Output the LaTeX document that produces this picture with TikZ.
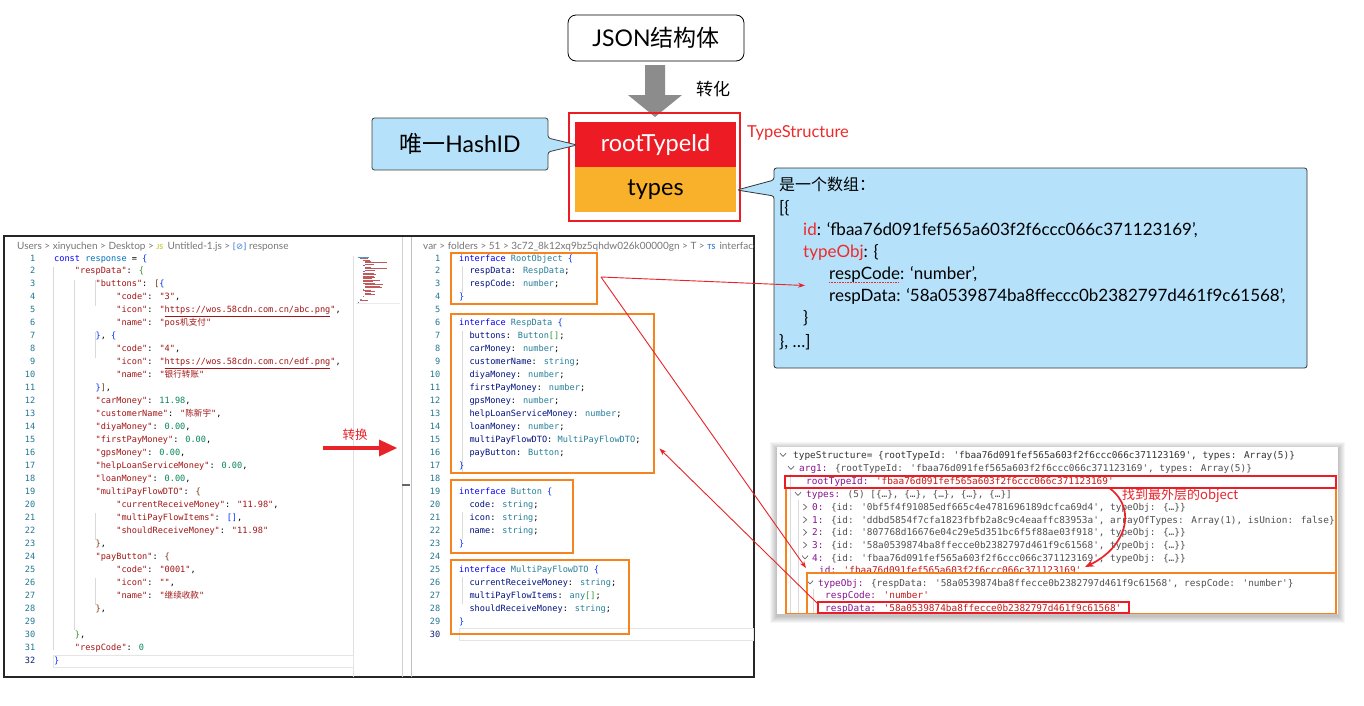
\documentclass[tikz,border=0pt]{standalone}
\usepackage{fontspec}
\usetikzlibrary{arrows.meta}
\setmainfont{Lato}
\newfontfamily\cjk{Noto Sans CJK SC}
\newfontfamily\monof{DejaVu Sans Mono}[Ligatures=TeXOff]
\newfontfamily\dejavu{DejaVu Sans}
\definecolor{boxred}{HTML}{ED1C24}
\definecolor{boxorange}{HTML}{F9B12C}
\definecolor{callblue}{HTML}{B5E2FA}
\definecolor{labred}{HTML}{EE2A2A}
\definecolor{frameorange}{HTML}{F5841F}
\definecolor{arrred}{HTML}{E8232A}
\definecolor{kw}{HTML}{0000FF}
\definecolor{jstr}{HTML}{A31515}
\definecolor{jnum}{HTML}{098658}
\definecolor{jid}{HTML}{0070C1}
\definecolor{tprop}{HTML}{001080}
\definecolor{ttype}{HTML}{267F99}
\definecolor{bka}{HTML}{0431FA}
\definecolor{bkb}{HTML}{319331}
\definecolor{bkc}{HTML}{7B3814}
\definecolor{lnumc}{HTML}{237893}
\definecolor{lnumcur}{HTML}{0B216F}
\definecolor{crumbc}{HTML}{767676}
\definecolor{conk}{HTML}{881391}
\definecolor{cons}{HTML}{C41A16}
\definecolor{cgray}{HTML}{505050}
\definecolor{guide}{HTML}{D9D9D9}
\newcommand\codefont{\monof\fontsize{8.6}{10}\selectfont}
\newcommand\confont{\monof\fontsize{9.4}{11}\selectfont}
\newcommand\ckw[1]{\textcolor{kw}{#1}}
\newcommand\cst[1]{\textcolor{jstr}{#1}}
\newcommand\cnu[1]{\textcolor{jnum}{#1}}
\newcommand\cpr[1]{\textcolor{tprop}{#1}}
\newcommand\cty[1]{\textcolor{ttype}{#1}}
\newcommand\bka[1]{\textcolor{bka}{#1}}
\newcommand\bkb[1]{\textcolor{bkb}{#1}}
\newcommand\bkc[1]{\textcolor{bkc}{#1}}
\newcommand\conkey[1]{\textcolor{conk}{#1}}
\newcommand\constr[1]{\textcolor{cons}{#1}}
\newcommand\zh[1]{{\cjk #1}}
\newcommand\jl[3]{\node[code] (jl#1) at ({54+#2*5.18},{261+(#1-1)*12.97}) {#3};}
\newcommand\tsl[3]{\node[code] (ts#1) at ({459+#2*5.18},{261+(#1-1)*12.97}) {#3};}
\newcommand\conline[4]{\node[con] (cl#1) at (#2,{#3+3.5}) {#4};}
\newcommand\vchev[2]{\draw[chev] ({#1-3},{#2-1.8}) -- ({#1},{#2+1.4}) -- ({#1+3},{#2-1.8});}
\newcommand\rchev[2]{\draw[chev] ({#1-1.6},{#2-3}) -- ({#1+1.6},{#2}) -- ({#1-1.6},{#2+3});}
\tikzset{
  code/.style={anchor=base west, inner sep=0pt, font=\codefont},
  lnum/.style={anchor=base east, inner sep=0pt, font=\codefont, text=lnumc},
  con/.style={anchor=base west, inner sep=0pt, font=\confont, text=cgray},
  crumb/.style={anchor=base west, inner sep=0pt, font=\fontsize{10}{12}\selectfont, text=crumbc},
  note/.style={anchor=base west, inner sep=0pt, font=\fontsize{17}{20}\selectfont},
  orbox/.style={draw=frameorange, line width=1.8pt},
  rdbox/.style={draw=boxred, line width=1.8pt},
  thinarrow/.style={draw=arrred, line width=0.9pt, -{Stealth[length=7pt,width=5pt]}},
  guideline/.style={draw=guide, line width=0.6pt},
  chev/.style={draw=black!60, line width=0.7pt},
}
\begin{document}
\begin{tikzpicture}[x=1pt,y=-1pt]
\useasboundingbox (0,0) rectangle (1364,705);
\fill[white] (0,0) rectangle (1364,705);

% ---------------- top part ----------------
\node[draw=black, rounded corners=8pt, line width=0.8pt, minimum width=176pt, minimum height=46pt,
  font=\fontsize{23}{26}\selectfont] (json) at (656,38) {JSON\zh{结构体}};
\fill[black!45] (645,65) -- (665,65) -- (665,95) -- (682,95) -- (655,117) -- (628,95) -- (645,95) -- cycle;
\node[font=\cjk\fontsize{17}{20}\selectfont, anchor=center] (zh1) at (713,89) {转化};

\node[draw=boxred, line width=1.8pt, minimum width=171pt, minimum height=108pt] (ts) at (654.5,167) {};
\node[fill=boxred, minimum width=161pt, minimum height=45pt, inner sep=0pt, text=white,
  font=\fontsize{23.5}{26}\selectfont] (root) at (655.5,144.5) {rootTypeId};
\node[fill=boxorange, minimum width=161pt, minimum height=45pt, inner sep=0pt,
  font=\fontsize{23.5}{26}\selectfont] (types) at (655.5,189.5) {types};
\node[anchor=west, text=labred, inner sep=0pt, font=\fontsize{16.5}{19}\selectfont] (tslabel) at (747,133) {TypeStructure};

% HashID callout
\draw[fill=callblue, draw=black!75, line width=0.8pt, rounded corners=2.5pt]
  (372,118) -- (548,118) -- (548,138) -- (577,145) -- (548,152) -- (548,170) -- (372,170) -- cycle;
\node[font=\fontsize{23}{26}\selectfont] (hash) at (460,144) {\zh{唯一}HashID};

% array note callout
\draw[fill=callblue, draw=black!80, line width=0.8pt, rounded corners=2.5pt]
  (774,168) -- (1307,168) -- (1307,368) -- (774,368) -- (774,196) -- (737,190) -- (774,180) -- cycle;
\node[note, font=\cjk\fontsize{16}{19}\selectfont] (n1) at (779,190) {是一个数组：};
\node[note] (n2) at (779,213) {[\{};
\node[note] (n3) at (803,235.5) {\textcolor{labred}{id}: ‘fbaa76d091fef565a603f2f6ccc066c371123169’,};
\node[note] (n4) at (803,257) {\textcolor{labred}{typeObj}: \{};
\node[note] (n5) at (829,279) {respCode: ‘number’,};
\draw[labred, line width=0.6pt, densely dotted] (829,282.5) -- (899,282.5);
\node[note] (n6) at (829,301) {respData: ‘58a0539874ba8ffeccc0b2382797d461f9c61568’,};
\node[note] (n7) at (803,323.5) {\}};
\node[note] (n8) at (779,347.5) {\}, …]};

% ---------------- code screenshot frame ----------------
\draw[black!85, line width=1.3pt] (4,236) rectangle (754,677);
\draw[black!12, line width=0.6pt] (353,256) -- (353,677);
\draw[black!18, line width=0.6pt] (402,237) -- (402,677);
\draw[black!25, line width=0.6pt] (411.5,237) -- (411.5,677);
\draw[black!60, line width=1.2pt] (402,485) -- (410,485);

% breadcrumbs
\node[crumb] (bcl) at (17,249) {Users > xinyuchen > Desktop > \textcolor[HTML]{CBCB41}{\bfseries\fontsize{7}{8}\selectfont JS}\, Untitled-1.js > \textcolor[HTML]{3C7DD6}{\dejavu\fontsize{8.5}{10}\selectfont [⊘]} response};
\begin{scope}
\clip (412,237) rectangle (753,256);
\node[crumb] (bcm) at (423,249) {var > folders > 51 > 3c72\_8k12xq9bz5qhdw026k00000gn > T > \textcolor[HTML]{3C7DD6}{\bfseries\fontsize{7}{8}\selectfont TS}\, interface.ts};
\end{scope}

% minimap
\foreach \r/\a/\b/\c in {0/0/18/jid,1/4/12/jstr,2/8/12/jstr,3/12/10/jstr,4/12/36/jstr,5/12/14/jstr,6/8/4/bka,7/12/10/jstr,8/12/36/jstr,9/12/16/jstr,10/8/3/bka,11/8/18/jstr,12/8/22/jstr,13/8/18/jstr,14/8/21/jstr,15/8/16/jstr,16/8/29/jstr,17/8/17/jstr,18/8/20/jstr,19/12/30/jstr,20/12/24/jstr,21/12/28/jstr,22/8/2/bkc,23/8/14/jstr,24/12/16/jstr,25/12/10/jstr,26/12/16/jstr,27/8/2/bkc,29/4/2/bkb,30/4/13/jstr,31/0/1/bka}
  \draw[\c!70, line width=0.7pt] ({358+\a*0.6},{257+\r*1.45}) -- ++({\b*0.6},0);
\draw[black!8, line width=0.6pt] (356,303) -- (400,303);

% left code: indent guides and current line
\draw[guideline] (53.5,267) -- (53.5,650);
\draw[guideline] (74.5,280) -- (74.5,630);
\foreach \ya/\yb in {280/306, 332/358, 513/540, 578/605}
  \draw[guideline] (95.2,\ya) -- (95.2,\yb);
\draw[black!10, line width=0.6pt] (53,655) rectangle (353,667);

% left line numbers
\foreach \n in {1,...,31}
  \node[lnum] (jn\n) at (35.5,{261+(\n-1)*12.97}) {\n};
\node[lnum, text=lnumcur] (jn32) at (35.5,{261+31*12.97}) {32};

\jl{1}{0}{\ckw{const} \textcolor{jid}{response} = \bka{\{}}
\jl{2}{4}{\cst{"respData"}: \bkb{\{}}
\jl{3}{8}{\cst{"buttons"}: \bkc{[}\bka{\{}}
\jl{4}{12}{\cst{"code"}: \cst{"3"},}
\jl{5}{12}{\cst{"icon"}: \cst{"\underline{https://wos.58cdn.com.cn/abc.png}"},}
\jl{6}{12}{\cst{"name"}: \cst{"pos\zh{机支付}"}}
\jl{7}{8}{\bka{\}}, \bka{\{}}
\jl{8}{12}{\cst{"code"}: \cst{"4"},}
\jl{9}{12}{\cst{"icon"}: \cst{"\underline{https://wos.58cdn.com.cn/edf.png}"},}
\jl{10}{12}{\cst{"name"}: \cst{"\zh{银行转账}"}}
\jl{11}{8}{\bka{\}}\bkc{]},}
\jl{12}{8}{\cst{"carMoney"}: \cnu{11.98},}
\jl{13}{8}{\cst{"customerName"}: \cst{"\zh{陈新宇}"},}
\jl{14}{8}{\cst{"diyaMoney"}: \cnu{0.00},}
\jl{15}{8}{\cst{"firstPayMoney"}: \cnu{0.00},}
\jl{16}{8}{\cst{"gpsMoney"}: \cnu{0.00},}
\jl{17}{8}{\cst{"helpLoanServiceMoney"}: \cnu{0.00},}
\jl{18}{8}{\cst{"loanMoney"}: \cnu{0.00},}
\jl{19}{8}{\cst{"multiPayFlowDTO"}: \bkc{\{}}
\jl{20}{12}{\cst{"currentReceiveMoney"}: \cst{"11.98"},}
\jl{21}{12}{\cst{"multiPayFlowItems"}: \bka{[]},}
\jl{22}{12}{\cst{"shouldReceiveMoney"}: \cst{"11.98"}}
\jl{23}{8}{\bkc{\}},}
\jl{24}{8}{\cst{"payButton"}: \bkc{\{}}
\jl{25}{12}{\cst{"code"}: \cst{"0001"},}
\jl{26}{12}{\cst{"icon"}: \cst{""},}
\jl{27}{12}{\cst{"name"}: \cst{"\zh{继续收款}"}}
\jl{28}{8}{\bkc{\}},}
\jl{30}{4}{\bkb{\}},}
\jl{31}{4}{\cst{"respCode"}: \cnu{0}}
\jl{32}{0}{\bka{\}}}

% 转换 arrow
\fill[arrred] (323,446.2) rectangle (381,449.8);
\fill[arrred] (379,439.5) -- (397,448) -- (379,456.5) -- cycle;
\node[font=\cjk\fontsize{12.5}{15}\selectfont, text=arrred] (zh2) at (355,435) {转换};

% middle code
\foreach \ya/\yb in {266/293, 331/472, 512/539, 577/604}
  \draw[guideline] (462,\ya) -- (462,\yb);
\draw[black!10, line width=0.6pt] (459,628) rectangle (753,640);
\foreach \n in {1,...,29}
  \node[lnum] (tn\n) at (440.5,{261+(\n-1)*12.97}) {\n};
\node[lnum, text=lnumcur] (tn30) at (440.5,{261+29*12.97}) {30};

\tsl{1}{0}{\ckw{interface} \cty{RootObject} \bka{\{}}
\tsl{2}{2}{\cpr{respData}: \cty{RespData};}
\tsl{3}{2}{\cpr{respCode}: \cty{number};}
\tsl{4}{0}{\bka{\}}}
\tsl{6}{0}{\ckw{interface} \cty{RespData} \bka{\{}}
\tsl{7}{2}{\cpr{buttons}: \cty{Button}\bkb{[]};}
\tsl{8}{2}{\cpr{carMoney}: \cty{number};}
\tsl{9}{2}{\cpr{customerName}: \cty{string};}
\tsl{10}{2}{\cpr{diyaMoney}: \cty{number};}
\tsl{11}{2}{\cpr{firstPayMoney}: \cty{number};}
\tsl{12}{2}{\cpr{gpsMoney}: \cty{number};}
\tsl{13}{2}{\cpr{helpLoanServiceMoney}: \cty{number};}
\tsl{14}{2}{\cpr{loanMoney}: \cty{number};}
\tsl{15}{2}{\cpr{multiPayFlowDTO}: \cty{MultiPayFlowDTO};}
\tsl{16}{2}{\cpr{payButton}: \cty{Button};}
\tsl{17}{0}{\bka{\}}}
\tsl{19}{0}{\ckw{interface} \cty{Button} \bka{\{}}
\tsl{20}{2}{\cpr{code}: \cty{string};}
\tsl{21}{2}{\cpr{icon}: \cty{string};}
\tsl{22}{2}{\cpr{name}: \cty{string};}
\tsl{23}{0}{\bka{\}}}
\tsl{25}{0}{\ckw{interface} \cty{MultiPayFlowDTO} \bka{\{}}
\tsl{26}{2}{\cpr{currentReceiveMoney}: \cty{string};}
\tsl{27}{2}{\cpr{multiPayFlowItems}: \cty{any}\bkb{[]};}
\tsl{28}{2}{\cpr{shouldReceiveMoney}: \cty{string};}
\tsl{29}{0}{\bka{\}}}

% orange interface boxes
\node[orbox, minimum width=146pt, minimum height=51pt, inner sep=0pt] (ib1) at (524,278.5) {};
\node[orbox, minimum width=203pt, minimum height=159pt, inner sep=0pt] (ib2) at (552.5,393.5) {};
\node[orbox, minimum width=122pt, minimum height=73pt, inner sep=0pt] (ib3) at (512,516.5) {};
\node[orbox, minimum width=178pt, minimum height=74pt, inner sep=0pt] (ib4) at (540,597) {};

% ---------------- console screenshot ----------------
\foreach \i in {1,...,7}
  \fill[black, opacity=0.035] ({777-\i},{447-\i+2}) rectangle ({1338+\i},{614+\i+2});
\fill[white] (777,447) rectangle (1338,614);
\draw[guideline] (790,474) -- (790,614);
\draw[guideline] (798,500) -- (798,614);
\draw[guideline] (813,589) -- (813,614);

\vchev{783}{455}
\conline{1}{793}{455}{\textcolor{black!80}{typeStructure= \{rootTypeId: 'fbaa76d091fef565a603f2f6ccc066c371123169', types: Array(5)\}}}
\vchev{791}{468}
\conline{2}{799}{468}{\conkey{arg1:} \{rootTypeId: 'fbaa76d091fef565a603f2f6ccc066c371123169', types: Array(5)\}}
\conline{3}{806}{481}{\conkey{rootTypeId:} \constr{'fbaa76d091fef565a603f2f6ccc066c371123169'}}
\vchev{798}{494}
\conline{4}{806}{494}{\conkey{types:} (5) [\{…\}, \{…\}, \{…\}, \{…\}, \{…\}]}
\rchev{805}{507}
\conline{5}{812}{507}{\conkey{0:} \{id: '0bf5f4f91085edf665c4e4781696189dcfca69d4', typeObj: \{…\}\}}
\rchev{805}{519.7}
\conline{6}{812}{519.7}{\conkey{1:} \{id: 'ddbd5854f7cfa1823fbfb2a8c9c4eaaffc83953a', arrayOfTypes: Array(1), isUnion: false\}}
\rchev{805}{532.4}
\conline{7}{812}{532.4}{\conkey{2:} \{id: '807768d16676e04c29e5d351bc6f5f88ae03f918', typeObj: \{…\}\}}
\rchev{805}{545}
\conline{8}{812}{545}{\conkey{3:} \{id: '58a0539874ba8ffecce0b2382797d461f9c61568', typeObj: \{…\}\}}
\vchev{805}{557.5}
\conline{9}{812}{557.5}{\conkey{4:} \{id: 'fbaa76d091fef565a603f2f6ccc066c371123169', typeObj: \{…\}\}}
\conline{10}{819}{570}{\conkey{id:} \constr{'fbaa76d091fef565a603f2f6ccc066c371123169'}}
\vchev{810}{582.5}
\conline{11}{818}{582.5}{\conkey{typeObj:} \{respData: '58a0539874ba8ffecce0b2382797d461f9c61568', respCode: 'number'\}}
\conline{12}{825}{595}{\conkey{respCode:} \constr{'number'}}
\conline{13}{825}{607.5}{\conkey{respData:} \constr{'58a0539874ba8ffecce0b2382797d461f9c61568'}}

\draw[orbox, line width=1.5pt] (786,488) rectangle (1336,613.5);
\draw[orbox, line width=1.5pt] (807,573) rectangle (1336,613.5);
\node[rdbox, line width=1.6pt, minimum width=551pt, minimum height=12pt, inner sep=0pt] (rb1) at (1060.5,482) {};
\node[rdbox, line width=1.6pt, minimum width=311pt, minimum height=11pt, inner sep=0pt] (rb2) at (973.5,607.5) {};

% curved arrow and label
\coordinate (cs) at (1110,488.5);
\coordinate (ce) at (1085,567);
\draw[draw=arrred, line width=1.7pt, -{Stealth[length=9pt,width=7pt]}] (cs) .. controls (1138,510) and (1125,548) .. (ce);
\node[anchor=west, inner sep=0pt, text=arrred, font=\cjk\fontsize{13}{15}\selectfont] (findlbl) at (1122,496) {找到最外层的object};

% ---------------- thin red arrows ----------------
\coordinate (a0) at (601,277);
\coordinate (a1) at (805,285.5);
\coordinate (a2) at (806,568);
\coordinate (b0) at (818,604);
\coordinate (b1) at (659.5,448.5);
\draw[thinarrow] (a0) -- (a1);
\draw[thinarrow] (a0) -- (a2);
\draw[thinarrow] (b0) -- (b1);
\end{tikzpicture}
\end{document}
